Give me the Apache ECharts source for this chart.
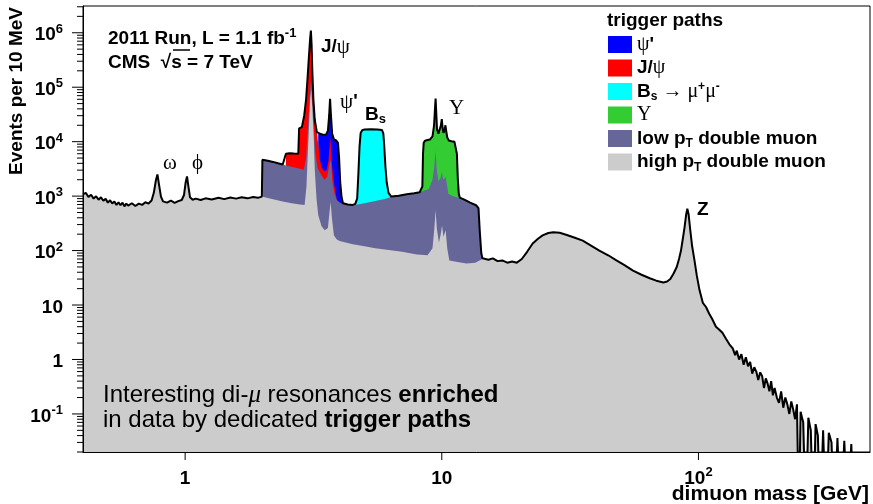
<!DOCTYPE html>
<html>
<head>
<meta charset="utf-8">
<title>dimuon mass spectrum</title>
<script src="https://cdn.jsdelivr.net/npm/echarts@6.0.0/dist/echarts.min.js"></script>
<style>
  html, body { margin: 0; padding: 0; background: #fff; }
  #main { width: 873px; height: 504px; }
</style>
</head>
<body>
<div id="main"></div>
<script>
// axis ranges: dimuon mass [GeV] / events per 10 MeV
var xMin = 0.4, xMax = 466;
var yMin = 0.02, yMax = 3.1e6;
var xTickValues = [1, 10, 100];
var yTickValues = [0.1, 1, 10, 100, 1000, 1e4, 1e5, 1e6];

// high pT double muon (gray), whole range
var highPt = [
  [0.40,1080],[0.41,1150],[0.42,960],[0.43,1060],[0.44,900],[0.45,990],[0.46,860],[0.47,950],
  [0.48,820],[0.49,890],[0.50,760],[0.51,840],[0.52,730],[0.53,800],[0.54,690],[0.55,770],
  [0.56,680],[0.57,760],[0.58,650],[0.59,730],[0.60,670],[0.62,740],[0.64,660],[0.66,730],
  [0.68,690],[0.70,770],[0.72,730],[0.74,830],[0.755,1150],[0.77,2000],[0.78,2500],[0.79,1700],
  [0.805,980],[0.82,800],[0.85,760],[0.88,830],[0.91,750],[0.94,810],[0.97,850],[0.99,1050],
  [1.005,1800],[1.017,2300],[1.03,1500],[1.045,950],[1.07,860],[1.10,900],[1.15,850],[1.20,910],
  [1.27,870],[1.35,930],[1.42,880],[1.50,940],[1.58,900],[1.66,950],[1.75,910],[1.84,960],
  [1.92,930],[1.99,980],
  [2.0,960],[2.2,880],[2.4,800],[2.6,740],[2.8,700],[2.92,690],[2.97,1500],[3.0,5000],
  [3.03,14000],[3.07,60000],[3.1,90000],[3.13,40000],[3.17,12000],[3.2,3000],[3.25,900],
  [3.3,450],[3.4,280],[3.5,235],[3.6,260],[3.65,500],[3.69,780],[3.73,400],[3.8,190],[3.9,160],
  [4.0,150],[4.5,130],[5.0,120],[5.5,110],[6.0,105],[7.0,95],[8.0,85],[8.8,82],[9.2,110],
  [9.35,250],[9.46,550],[9.57,250],[9.75,140],[9.9,200],[10.02,290],[10.15,180],[10.35,235],
  [10.5,110],[10.7,66],[11.5,62],[12.5,58],[13.5,60],[14.4,70],
  [14.6,74],[15.2,68],[15.8,72],[16.5,64],[17.2,66],[18.0,60],[18.8,63],[19.6,60],[20.5,70],
  [21.5,95],[22.6,135],[23.7,165],[24.7,190],[26.0,210],[27.2,218],[28.8,212],[30.5,195],
  [33.0,172],[35.4,152],[38.0,125],[41.1,100],[44.5,82],[47.9,66],[51.5,54],[55.6,43],
  [60.0,36],[64.6,31],[68.5,28],[73.0,26],[75.5,27],[77.7,30],[80.0,38],[82.3,50],[84.0,70],
  [85.5,100],[87.0,170],[88.3,270],[89.5,450],[90.5,590],[91.5,470],[92.9,240],[94.5,120],
  [96.5,66],[98.5,35],[101,18.6],[104,11],[107,9.2],[110,7],[113,5.6],[117,4.0],[120,3.6],
  [124,3.1],[128,2.4],[132,1.9],[136,1.6],[139,1.2],[141,1.45],[144,1.0],[147,1.25],[150,0.8],
  [153,1.1],[156,0.75],[159,0.9],[162,0.55],[165,0.72],[168,0.6],[171,0.42],[174,0.58],
  [177,0.5],[180,0.3],[183,0.45],[186,0.36],[189,0.26],[192,0.4],[195,0.22],[198,0.3],
  [202,0.2],[206,0.16],[210,0.26],[214,0.13],[218,0.2],[222,0.15],[226,0.1],[230,0.17],
  [234,0.12],[238,0.08],[242,0.15],[246,0.001],[250,0.11],[256,0.07],[262,0.001],
  [268,0.085],[274,0.05],[280,0.001],[286,0.065],[292,0.04],[298,0.001],[306,0.05],[314,0.001],
  [322,0.045],[330,0.03],[338,0.001],[348,0.036],[358,0.001],[370,0.032],[382,0.001],
  [394,0.028],[404,0.001],[466,0.001]
];

// low pT double muon (slate), 2 - 14.4 GeV
var lowPt = [
  [2.0,4670],[2.1,4450],[2.2,4250],[2.3,4000],[2.4,3800],[2.47,3650],[2.6,3450],[2.75,3250],
  [2.9,3050],[2.96,5000],[3.0,14000],[3.04,40000],[3.08,110000],[3.1,130000],[3.13,60000],
  [3.17,18000],[3.22,6000],[3.28,3300],[3.4,2400],[3.5,2000],[3.58,2300],[3.63,3200],
  [3.67,4600],[3.71,4000],[3.75,1800],[3.82,1100],[3.9,850],[4.0,760],[4.12,720],[4.3,700],
  [4.5,690],[4.7,700],[5.0,740],[5.5,810],[6.0,890],[6.3,950],[6.8,1020],[7.3,1080],
  [7.8,1130],[8.2,1180],[8.5,1250],[8.9,1350],[9.2,2000],[9.35,3500],[9.46,6900],[9.56,3000],
  [9.7,1900],[9.88,2100],[10.01,2800],[10.12,2000],[10.23,1900],[10.35,2250],[10.5,1500],
  [10.6,1100],[11.0,1000],[11.4,950],[11.7,930],[12.3,850],[12.9,760],[13.6,680],[13.9,600],
  [14.05,240],[14.25,90],[14.4,72]
];

// J/psi trigger (red)
var jpsi = [
  [2.47,6000],[2.55,6100],[2.65,6050],[2.76,6000],[2.78,17500],[2.85,18500],[2.91,30000],
  [2.96,60000],[3.0,150000],[3.04,400000],[3.07,800000],[3.09,1100000],[3.11,600000],
  [3.13,200000],[3.16,60000],[3.2,25000],[3.26,15000],[3.3,9000],[3.34,5000],[3.4,3400],
  [3.48,2900],[3.56,3000],[3.62,4500],[3.66,9000],[3.68,12000],[3.71,6000],[3.76,2600],
  [3.82,1500],[3.9,850],[3.97,740]
];

// psi' trigger (blue)
var psi2S = [
  [3.3,14500],[3.38,13800],[3.46,13300],[3.54,13500],[3.6,16000],[3.64,30000],[3.67,61000],
  [3.7,30000],[3.74,14000],[3.8,11000],[3.88,10500],[3.94,9500],[3.98,5000],[4.02,1800],
  [4.07,950],[4.12,740]
];

// Bs -> mu mu trigger (cyan)
var bs = [
  [4.45,700],[4.6,720],[4.68,900],[4.73,2500],[4.78,8000],[4.83,14500],[4.9,16300],[5.0,16700],
  [5.3,16900],[5.6,16800],[5.85,16300],[5.92,14000],[5.97,8000],[6.03,3500],[6.1,1800],
  [6.2,1150],[6.35,980]
];

// Upsilon trigger (green)
var upsilon = [
  [8.3,1200],[8.4,1500],[8.45,6000],[8.5,9500],[8.6,10400],[8.8,10700],[9.0,11000],[9.2,12500],
  [9.33,20000],[9.42,45000],[9.46,62000],[9.5,40000],[9.58,17000],[9.7,14000],[9.82,15000],
  [9.92,20000],[10.0,26000],[10.07,18000],[10.15,14500],[10.25,16000],[10.33,20000],
  [10.4,16000],[10.5,12000],[10.65,10500],[10.9,10200],[11.2,10000],[11.35,9700],[11.45,6000],
  [11.55,2000],[11.65,1100],[11.75,940]
];

// which layer is on top in each mass window (for the black outline)
var outlineParts = [
  [highPt, 0, 2.0], [lowPt, 2.0, 2.47], [jpsi, 2.47, 3.295], [psi2S, 3.295, 4.13],
  [lowPt, 4.13, 4.6], [bs, 4.6, 6.36], [lowPt, 6.36, 8.3], [upsilon, 8.3, 11.76],
  [lowPt, 11.76, 14.45], [highPt, 14.45, 1000]
];
var total = [];
outlineParts.forEach(function (p) {
  p[0].forEach(function (d) { if (d[0] >= p[1] && d[0] < p[2]) total.push(d); });
});

// minor ticks 2..9 in every decade
var yMinorTicks = [];
for (var e = -2; e <= 6; e++) {
  for (var k = 2; k <= 9; k++) {
    var v = +(k * Math.pow(10, e)).toPrecision(3);
    if (v >= yMin && v <= yMax) yMinorTicks.push(v);
  }
}

// tick marks: [x, y, length, 0 = y-axis tick / 1 = x-axis tick]
var tickMarks = [];
yTickValues.forEach(function (t) { tickMarks.push([xMin, t, 11, 0]); });
yMinorTicks.forEach(function (t) { tickMarks.push([xMin, t, 6, 0]); });
xTickValues.forEach(function (t) { tickMarks.push([t, yMin, 8, 1]); });

var sans = '"Liberation Sans", Arial, Helvetica, sans-serif';
var serif = '"Liberation Serif", "DejaVu Serif", serif';

function powLabel(v) {
  var n = Math.round(Math.log10(v));
  if (n === 0) return '{m|1}';
  if (n === 1) return '{m|10}';
  return '{m|10}{s|' + n + '}';
}
var tickRich = {
  m: {fontFamily: sans, fontWeight: 'bold', fontSize: 19, color: '#000', padding: [5, 0, 0, 0]},
  s: {fontFamily: sans, fontWeight: 'bold', fontSize: 13, color: '#000', verticalAlign: 'top', padding: [2, 0, 0, 0]}
};

var legendNames = {
  psi2S: '{g|ψ}{b|\'}',
  jpsi: '{b|J/}{g|ψ}',
  bs: '{b|B}{sub|s}{g| → μ}{sup|+}{g|μ}{sup|-}',
  upsilon: '{g|Υ}',
  lowPt: '{b|low p}{tsub|T}{b| double muon}',
  highPt: '{b|high p}{tsub|T}{b| double muon}'
};

function area(name, data, color, z) {
  return {
    name: name, type: 'line', data: data, z: z,
    color: color, symbol: 'none', showSymbol: false, smooth: false,
    lineStyle: {width: 0}, itemStyle: {color: color},
    areaStyle: {color: color, opacity: 1, origin: 'start'},
    silent: true, animation: false
  };
}

var annRich = {
  b: {fontFamily: sans, fontWeight: 'bold', fontSize: 19, lineHeight: 24, fill: '#000'},
  bx: {fontFamily: sans, fontWeight: 'bold', fontSize: 21, lineHeight: 24, fill: '#000'},
  s: {fontFamily: sans, fontWeight: 'bold', fontSize: 13, verticalAlign: 'top', fill: '#000'},
  sub: {fontFamily: sans, fontWeight: 'bold', fontSize: 13, verticalAlign: 'top', padding: [10, 0, 0, 0], fill: '#000'},
  g: {fontFamily: serif, fontSize: 21, lineHeight: 24, fill: '#000'},
  r: {fontFamily: sans, fontSize: 24, lineHeight: 26, fill: '#000'},
  rb: {fontFamily: sans, fontWeight: 'bold', fontSize: 24, lineHeight: 26, fill: '#000'},
  mu: {fontFamily: serif, fontStyle: 'italic', fontSize: 25, lineHeight: 26, fill: '#000'}
};

function label(x, y, text, align) {
  return {
    type: 'text', x: x, y: y, z: 50,
    style: {text: text, rich: annRich, fill: '#000', align: align || 'left', textAlign: align || 'left',
      verticalAlign: 'middle', textVerticalAlign: 'middle'}
  };
}

var chart = echarts.init(document.getElementById('main'));
var option = {
  animation: false,
  backgroundColor: '#fff',
  grid: {left: 83, right: 3, top: 6, bottom: 52, show: true, borderColor: '#000', borderWidth: 1, backgroundColor: 'transparent'},
  xAxis: {
    type: 'log', logBase: 10, min: xMin, max: xMax, z: 20,
    axisLine: {show: true, lineStyle: {color: '#000', width: 1}},
    axisTick: {show: false},
    axisLabel: {customValues: xTickValues, margin: 12, formatter: powLabel, rich: tickRich},
    splitLine: {show: false}
  },
  yAxis: {
    type: 'log', logBase: 10, min: yMin, max: yMax, z: 20,
    axisLine: {show: true, lineStyle: {color: '#000', width: 1}},
    axisTick: {show: false},
    axisLabel: {customValues: yTickValues, margin: 20, formatter: powLabel, rich: tickRich},
    splitLine: {show: false}
  },
  legend: {
    data: ['psi2S', 'jpsi', 'bs', 'upsilon', 'lowPt', 'highPt'],
    orient: 'vertical', left: 608, top: 33, padding: 0,
    itemWidth: 24, itemHeight: 17, itemGap: 0.5, icon: 'rect', selectedMode: false,
    formatter: function (name) { return legendNames[name]; },
    textStyle: {
      color: '#000', lineHeight: 23,
      rich: {
        b: {fontFamily: sans, fontWeight: 'bold', fontSize: 19, color: '#000'},
        g: {fontFamily: serif, fontSize: 20, color: '#000'},
        sub: {fontFamily: sans, fontWeight: 'bold', fontSize: 12, color: '#000', verticalAlign: 'top', padding: [11, 0, 0, 0]},
        tsub: {fontFamily: sans, fontWeight: 'bold', fontSize: 12, color: '#000', verticalAlign: 'top', padding: [11, 0, 0, 0]},
        sup: {fontFamily: sans, fontWeight: 'bold', fontSize: 12, color: '#000', verticalAlign: 'top', padding: [1, 0, 0, 0]}
      }
    }
  },
  graphic: [
    label(108, 39, '{b|2011 Run, L = 1.1 fb}{s|-1}'),
    label(108, 63, '{b|CMS  √s = 7 TeV}'),
    {type: 'line', z: 50, shape: {x1: 173, y1: 50, x2: 190, y2: 50}, style: {stroke: '#000', lineWidth: 1.5}},
    label(321, 47, '{b|J/}{g|ψ}'),
    label(340, 102, '{g|ψ}{b|\'}'),
    label(365, 115, '{b|B}{sub|s}'),
    label(449, 108, '{g|Υ}'),
    label(163, 163, '{g|ω}'),
    label(192, 163, '{g|ϕ}'),
    label(697, 210, '{b|Z}'),
    label(103, 395, '{r|Interesting di-}{mu|μ}{r| resonances }{rb|enriched}'),
    label(103, 420, '{r|in data by dedicated }{rb|trigger paths}'),
    label(607, 21, '{b|trigger paths}'),
    label(869, 494, '{bx|dimuon mass [GeV]}', 'right'),
    {
      type: 'text', x: 16.5, y: 7, rotation: Math.PI / 2, z: 50,
      style: {text: 'Events per 10 MeV', font: 'bold 19px ' + sans, fill: '#000',
        align: 'right', textAlign: 'right', verticalAlign: 'middle', textVerticalAlign: 'middle'}
    }
  ],
  series: [
    area('bs', bs, '#00ffff', 2),
    area('upsilon', upsilon, '#33cc33', 3),
    area('psi2S', psi2S, '#0000ff', 4),
    area('jpsi', jpsi, '#ff0000', 5),
    area('lowPt', lowPt, '#666699', 6),
    area('highPt', highPt, '#cccccc', 7),
    {
      name: 'total', type: 'line', data: total, z: 8, symbol: 'none', showSymbol: false,
      lineStyle: {color: '#000', width: 2}, silent: true, animation: false
    },
    {
      // axis tick marks, placed through the axes' own scales
      name: 'ticks', type: 'custom', data: tickMarks, clip: false, z: 30, silent: true,
      renderItem: function (params, api) {
        var p = api.coord([api.value(0), api.value(1)]);
        var len = api.value(2);
        var shape = api.value(3) === 0
          ? {x1: p[0] - len, y1: p[1], x2: p[0], y2: p[1]}
          : {x1: p[0], y1: p[1], x2: p[0], y2: p[1] + len};
        return {type: 'line', shape: shape, style: {stroke: '#000', lineWidth: 1}};
      }
    }
  ]
};
chart.setOption(option);
</script>
</body>
</html>
